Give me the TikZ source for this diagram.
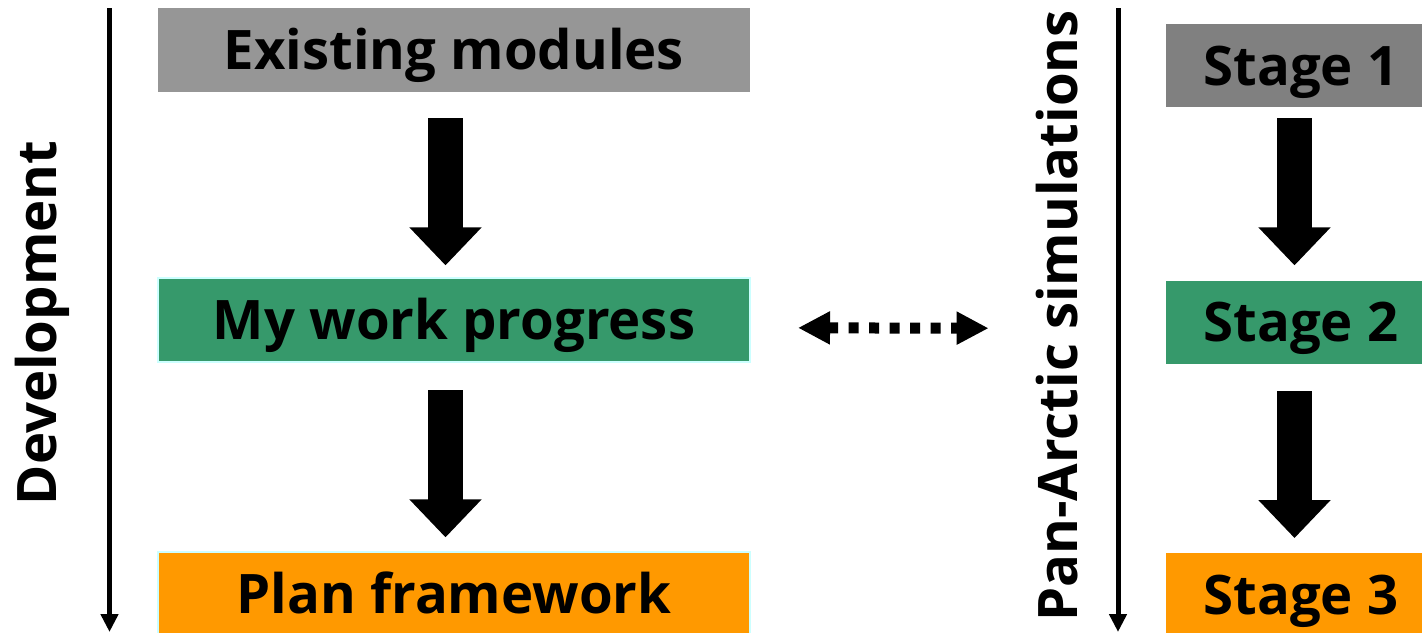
\documentclass[tikz,border=0pt]{standalone}
\usepackage{fontspec}
\setmainfont{Open Sans}
\usetikzlibrary{arrows.meta}
\usetikzlibrary{positioning}

\definecolor{modgray}{HTML}{969696}
\definecolor{stagegray}{HTML}{808080}
\definecolor{workgreen}{HTML}{36996B}
\definecolor{planorange}{HTML}{FF9900}
\definecolor{edgecyan}{HTML}{CCFFFF}

\begin{document}
\begin{tikzpicture}[
			boxtext/.style={rectangle, inner sep=0pt, text height=0.78cm, text depth=0pt, font=\fontsize{31}{31}\selectfont\bfseries},
			greynode/.style={boxtext, fill=modgray, minimum width=11.84cm, minimum height=1.68cm},
			greennode/.style={boxtext, fill=workgreen, draw=edgecyan, line width=0.04cm, minimum width=11.84cm, minimum height=1.68cm},
			orangenode/.style={boxtext, fill=planorange, draw=edgecyan, line width=0.04cm, minimum width=11.84cm, minimum height=1.68cm},
			stagenode/.style={boxtext, minimum width=5.4cm, minimum height=1.66cm},
			sidelabel/.style={rotate=90, anchor=base, inner sep=0pt, font=\fontsize{31}{31}\selectfont\bfseries},
			bigarrow/.style={line width=0.7cm, -{Triangle[width=1.4cm, length=0.76cm]}},
			axisarrow/.style={line width=0.1cm, -{Triangle[width=0.34cm, length=0.36cm]}},
			linkarrow/.style={line width=0.22cm, dash pattern=on 0.2cm off 0.21cm, {Triangle[width=0.62cm, length=0.64cm]}-{Triangle[width=0.62cm, length=0.64cm]}},
			]
			\useasboundingbox (0,0) rectangle (28.44,-12.64);
			%Nodes
			\node[greynode] (existing) at (9.08,-1.0) {Existing modules};
			\node[greennode] (progress) [below=3.7cm of existing] {My work progress};
			\node[orangenode] (plan) [below=3.76cm of progress] {Plan framework};
			
			\node[stagenode, fill=stagegray] (stageone) at (26.02,-1.31) {Stage 1};
			\node[stagenode, fill=workgreen] (stagetwo) [below=3.46cm of stageone] {Stage 2};
			\node[stagenode, fill=planorange] (stagethree) [below=3.78cm of stagetwo] {Stage 3};
			
			\node[sidelabel] (devlabel) at (1.12,-6.46) {Development};
			\node[sidelabel] (simlabel) at (21.54,-6.32) {Pan-Arctic simulations};
			
			\coordinate (devtop) at (2.19,-0.16);
			\coordinate (devend) at (2.19,-12.64);
			\coordinate (simtop) at (22.36,-0.16);
			\coordinate (simend) at (22.36,-12.64);
			
			%Lines
			\draw[axisarrow] (devtop) -- (devend);
			\draw[axisarrow] (simtop) -- (simend);
			
			\draw[bigarrow, shorten <=0.52cm, shorten >=0.24cm] ([xshift=-0.17cm]existing.south) -- ([xshift=-0.17cm]progress.north);
			\draw[bigarrow, shorten <=0.54cm, shorten >=0.28cm] ([xshift=-0.17cm]progress.south) -- ([xshift=-0.17cm]plan.north);
			\draw[bigarrow, shorten <=0.22cm, shorten >=0.3cm] ([xshift=-0.13cm]stageone.south) -- ([xshift=-0.13cm]stagetwo.north);
			\draw[bigarrow, shorten <=0.54cm, shorten >=0.3cm] ([xshift=-0.13cm]stagetwo.south) -- ([xshift=-0.13cm]stagethree.north);
			
			\draw[linkarrow] ([xshift=0.94cm, yshift=-0.15cm]progress.east) -- ([xshift=-3.54cm, yshift=-0.12cm]stagetwo.west);
		\end{tikzpicture}
\end{document}
